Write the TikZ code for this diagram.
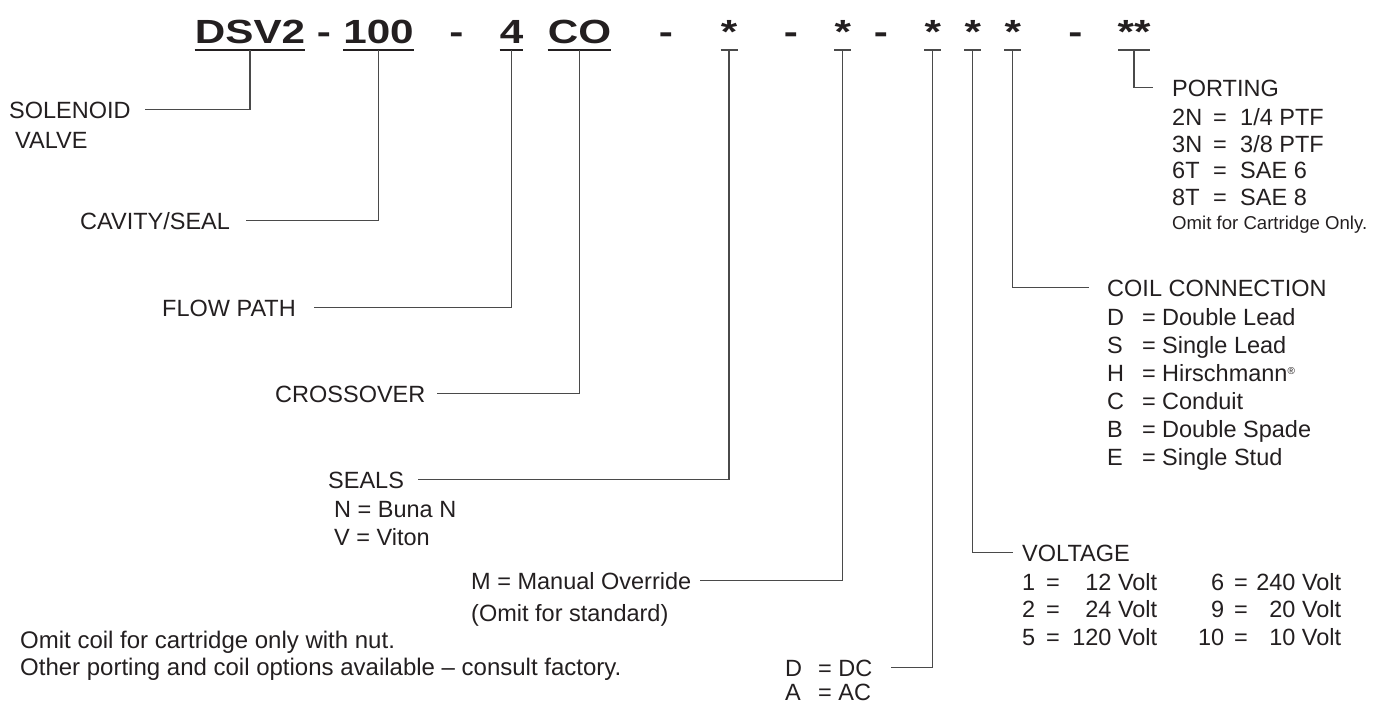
\documentclass[tikz,border=0pt]{standalone}
\usepackage{fontspec}
\setmainfont{Liberation Sans}
\usetikzlibrary{calc}
\definecolor{ink}{HTML}{231F20}
\definecolor{wirec}{HTML}{4A4A4A}
\newcommand{\hx}[1]{\scalebox{1.26}[1]{#1}}
\begin{document}
\begin{tikzpicture}[x=1pt,y=-1pt,
  lbl/.style={anchor=base west, inner sep=0pt, font=\fontsize{23.5}{28}\selectfont, text=ink},
  tagl/.style={lbl, text height=17pt, text depth=0pt},
  note/.style={lbl, font=\fontsize{24}{28}\selectfont},
  small/.style={anchor=base west, inner sep=0pt, font=\fontsize{18.6}{22}\selectfont, text=ink},
  hdr/.style={anchor=base, inner sep=0pt, font=\fontsize{33.5}{36}\selectfont\bfseries, text=ink, text height=24pt, text depth=0pt},
  wire/.style={draw=wirec, line width=1.4pt},
  uline/.style={draw=ink, line width=2pt}]
\useasboundingbox (0,0) rectangle (1380,705);

% ---- header ----
\node[hdr] (w1) at (250,43) {\hx{DSV2}};
\node[hdr] (d1) at (324,43) {\hx{-}};
\node[hdr] (w2) at (378.5,43) {\hx{100}};
\node[hdr] (d2) at (456.5,43) {\hx{-}};
\node[hdr] (w3) at (511.5,43) {\hx{4}};
\node[hdr] (w4) at (579.5,43) {\hx{CO}};
\node[hdr] (d3) at (666,43) {\hx{-}};
\node[hdr] (s1) at (729,43) {\hx{*}};
\node[hdr] (d4) at (791,43) {\hx{-}};
\node[hdr] (s2) at (842.7,43) {\hx{*}};
\node[hdr] (d5) at (881,43) {\hx{-}};
\node[hdr] (s3) at (932.7,43) {\hx{*}};
\node[hdr] (s4) at (972.7,43) {\hx{*}};
\node[hdr] (s5) at (1012.7,43) {\hx{*}};
\node[hdr] (d6) at (1075.5,43) {\hx{-}};
\node[hdr] (s6) at (1134,43) {\hx{**}};

\foreach \n in {w1,w2,w3,w4}
  \draw[uline] ([yshift=-7pt]\n.base west) -- ([yshift=-7pt]\n.base east);
\foreach \n in {s1,s2,s3,s4,s5}
  \draw[wire] ([xshift=-8.5pt,yshift=-7pt]\n.base) -- ([xshift=8.5pt,yshift=-7pt]\n.base);
\draw[wire] ([xshift=-16pt,yshift=-7pt]s6.base) -- ([xshift=16pt,yshift=-7pt]s6.base);

% ---- left labels ----
\node[tagl] (sol) at (9,118) {SOLENOID};
\node[lbl] (valve) at (15,148) {VALVE};
\node[tagl] (cav) at (80,229) {CAVITY/SEAL};
\node[tagl] (flow) at (162,316) {FLOW PATH};
\node[tagl] (cross) at (275,402) {CROSSOVER};
\node[tagl] (seals) at (328,488) {SEALS};
\node[lbl] (buna) at (334,517) {N = Buna N};
\node[lbl] (viton) at (334,545) {V = Viton};
\node[tagl] (man) at (471,589) {M = Manual Override};
\node[lbl] (std) at (471,621) {(Omit for standard)};
\node[tagl] (dc) at (785,676) {\makebox[33pt][l]{D}= DC};
\node[lbl] (ac) at (785,700) {\makebox[33pt][l]{A}= AC};
\node[note] (n1) at (20,648) {Omit coil for cartridge only with nut.};
\node[note] (n2) at (20,675) {Other porting and coil options available – consult factory.};

% ---- right labels ----
\node[tagl] (volt) at (1022,561) {VOLTAGE};
\node[lbl] (v1) at (1022,590) {\makebox[24pt][l]{1}\makebox[111pt][l]{=\hfill 12 Volt}};
\node[lbl] (v2) at (1022,617) {\makebox[24pt][l]{2}\makebox[111pt][l]{=\hfill 24 Volt}};
\node[lbl] (v5) at (1022,645) {\makebox[24pt][l]{5}\makebox[111pt][l]{=\hfill 120 Volt}};
\node[lbl] (v6) at (1197,590) {\makebox[27pt][r]{6}\hspace{10pt}\makebox[107pt][l]{=\hfill 240 Volt}};
\node[lbl] (v9) at (1197,617) {\makebox[27pt][r]{9}\hspace{10pt}\makebox[107pt][l]{=\hfill 20 Volt}};
\node[lbl] (v10) at (1197,645) {\makebox[27pt][r]{10}\hspace{10pt}\makebox[107pt][l]{=\hfill 10 Volt}};

\node[tagl] (coil) at (1107,296) {COIL CONNECTION};
\node[lbl] (cD) at (1107,325) {\makebox[35pt][l]{D}\makebox[20pt][l]{=}Double Lead};
\node[lbl] (cS) at (1107,353) {\makebox[35pt][l]{S}\makebox[20pt][l]{=}Single Lead};
\node[lbl] (cH) at (1107,381) {\makebox[35pt][l]{H}\makebox[20pt][l]{=}Hirschmann\raisebox{7pt}{\fontsize{10}{10}\selectfont ®}};
\node[lbl] (cC) at (1107,409) {\makebox[35pt][l]{C}\makebox[20pt][l]{=}Conduit};
\node[lbl] (cB) at (1107,437) {\makebox[35pt][l]{B}\makebox[20pt][l]{=}Double Spade};
\node[lbl] (cE) at (1107,465) {\makebox[35pt][l]{E}\makebox[20pt][l]{=}Single Stud};

\node[tagl] (port) at (1172,96) {PORTING};
\node[lbl] (p2) at (1172,125) {\makebox[41pt][l]{2N}\makebox[27pt][l]{=}1/4 PTF};
\node[lbl] (p3) at (1172,152) {\makebox[41pt][l]{3N}\makebox[27pt][l]{=}3/8 PTF};
\node[lbl] (p6) at (1172,178) {\makebox[41pt][l]{6T}\makebox[27pt][l]{=}SAE 6};
\node[lbl] (p8) at (1172,205) {\makebox[41pt][l]{8T}\makebox[27pt][l]{=}SAE 8};
\node[small] (pom) at (1172,229) {Omit for Cartridge Only.};

% ---- connectors ----
\draw[wire] ([yshift=-7pt]w1.base) |- ([xshift=14pt]sol.east);
\draw[wire] ([yshift=-7pt]w2.base) |- ([xshift=16pt]cav.east);
\draw[wire] ([yshift=-7pt]w3.base) |- ([xshift=18pt]flow.east);
\draw[wire] ([yshift=-7pt]w4.base) |- ([xshift=11pt]cross.east);
\draw[wire] ([yshift=-7pt]s1.base) |- ([xshift=14pt]seals.east);
\draw[wire] ([yshift=-7pt]s2.base) |- ([xshift=9pt]man.east);
\draw[wire] ([yshift=-7pt]s3.base) |- ([xshift=18pt]dc.east);
\draw[wire] ([yshift=-7pt]s4.base) |- ([xshift=-9pt]volt.west);
\draw[wire] ([yshift=-7pt]s5.base) |- ([xshift=-18pt]coil.west);
\draw[wire] ([yshift=-7pt]s6.base) |- ([xshift=-19pt]port.west);
\end{tikzpicture}
\end{document}
